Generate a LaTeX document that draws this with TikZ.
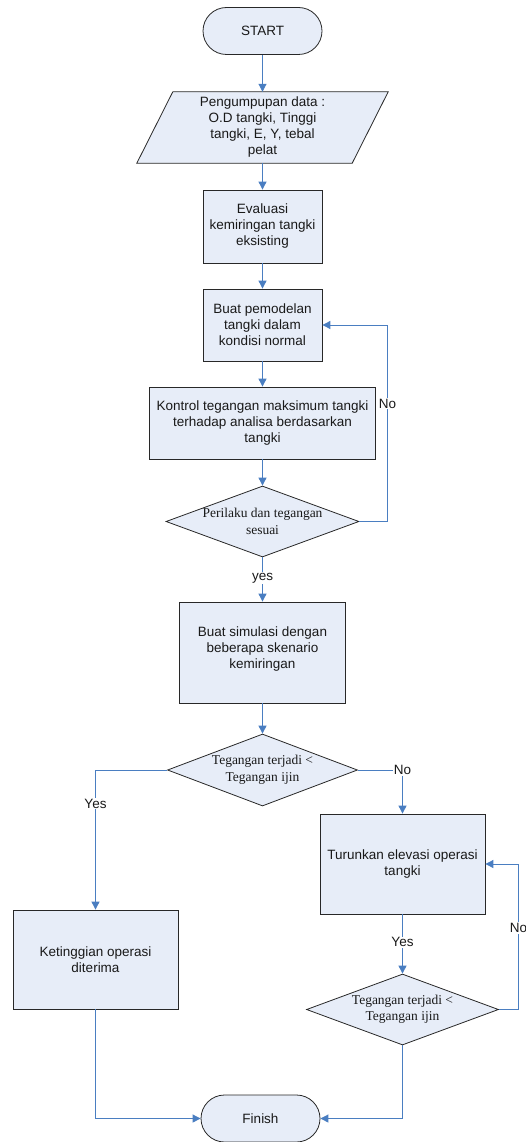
\documentclass[tikz,border=0pt]{standalone}
\usepackage{fontspec}
\setmainfont{Liberation Sans}
\newfontfamily\dserif{Liberation Serif}
\usetikzlibrary{shapes.geometric,arrows.meta,backgrounds}
\definecolor{boxfill}{RGB}{231,237,248}
\definecolor{linkblue}{RGB}{74,126,193}
\definecolor{edgegray}{RGB}{40,40,40}
\tikzset{
  every node/.style={font=\fontsize{13.5}{16}\selectfont, text=black!90},
  procbox/.style={rectangle, draw=edgegray, fill=boxfill, line width=0.8pt, align=center, inner sep=0pt},
  termbox/.style={rectangle, rounded corners=23.5pt, draw=edgegray, fill=boxfill, line width=0.8pt, align=center, inner sep=0pt, minimum width=119pt, minimum height=47pt},
  decbox/.style={diamond, draw=edgegray, fill=boxfill, line width=0.8pt, inner sep=0pt},
  dtext/.style={align=center, font=\dserif\fontsize{13.5}{16.5}\selectfont},
  iobox/.style={rectangle, align=center, inner sep=0pt},
  conn/.style={draw=linkblue, line width=0.9pt, -{Triangle[length=8pt,width=8pt]}},
  lbl/.style={fill=white, inner sep=1pt}
}
\begin{document}
\begin{tikzpicture}[x=1pt,y=-1pt]
\useasboundingbox (0,0) rectangle (526,1142);
\node[termbox] (start) at (262.5,31) {START};
\node[iobox, minimum width=215pt, minimum height=71pt] (pd) at (262.5,127.5) {Pengumpupan data :\\O.D tangki, Tinggi\\tangki, E, Y, tebal\\pelat};
\begin{scope}[on background layer]
\draw[draw=edgegray, fill=boxfill, line width=0.8pt]
  ([xshift=18pt]pd.north west) -- ([xshift=18pt]pd.north east)
  -- ([xshift=-18pt]pd.south east) -- ([xshift=-18pt]pd.south west) -- cycle;
\end{scope}
\node[procbox, minimum width=119pt, minimum height=73pt] (eval) at (262.5,226.5) {Evaluasi\\kemiringan tangki\\eksisting};
\node[procbox, minimum width=119pt, minimum height=72pt] (model) at (262.5,325) {Buat pemodelan\\tangki dalam\\kondisi normal};
\node[procbox, minimum width=226pt, minimum height=72pt] (kontrol) at (262.5,423) {Kontrol tegangan maksimum tangki\\terhadap analisa berdasarkan\\tangki};
\node[decbox, minimum width=193pt, minimum height=71pt] (d1) at (262.5,521.5) {};
\node[dtext] at (d1) {Perilaku dan tegangan\\sesuai};
\node[procbox, minimum width=166pt, minimum height=101pt] (sim) at (262.5,652.5) {};
\node[align=center] at ([yshift=3pt]sim.center) {Buat simulasi dengan\\beberapa skenario\\kemiringan};
\node[decbox, minimum width=190pt, minimum height=72pt] (d2) at (262.5,770) {};
\node[dtext] at (d2) {Tegangan terjadi <\\Tegangan ijin};
\node[procbox, minimum width=165pt, minimum height=100pt] (turun) at (402.5,864) {Turunkan elevasi operasi\\tangki};
\node[procbox, minimum width=165pt, minimum height=99pt] (keting) at (95.5,959.5) {Ketinggian operasi\\diterima};
\node[decbox, minimum width=192pt, minimum height=71pt] (d3) at (402.5,1009.5) {};
\node[dtext] at (d3) {Tegangan terjadi <\\Tegangan ijin};
\node[termbox] (finish) at (260.5,1118.5) {Finish};

\draw[conn] (start.south) -- (start.south |- pd.north);
\draw[conn] (pd.south) -- (eval.north);
\draw[conn] (eval.south) -- (model.north);
\draw[conn] (model.south) -- (kontrol.north);
\draw[conn] (kontrol.south) -- (d1.north);
\draw[conn] (d1.south) -- node[lbl, pos=0.47] {yes} (sim.north);
\draw[conn] (d1.east) -| ([xshift=65pt]model.east) node[lbl, pos=0.8] {No} -- (model.east);
\draw[conn] (sim.south) -- (d2.north);
\draw[conn] (d2.west) -| node[lbl, pos=0.62] {Yes} (keting.north);
\draw[conn] (d2.east) -| node[lbl, pos=0.5] {No} (turun.north);
\draw[conn] (turun.south) -- node[lbl, pos=0.47] {Yes} (d3.north);
\draw[conn] (d3.east) -| ([xshift=33pt]turun.east) node[lbl, pos=0.78] {No} -- (turun.east);
\draw[conn] (keting.south) |- (finish.west);
\draw[conn] (d3.south) |- (finish.east);
\end{tikzpicture}
\end{document}
